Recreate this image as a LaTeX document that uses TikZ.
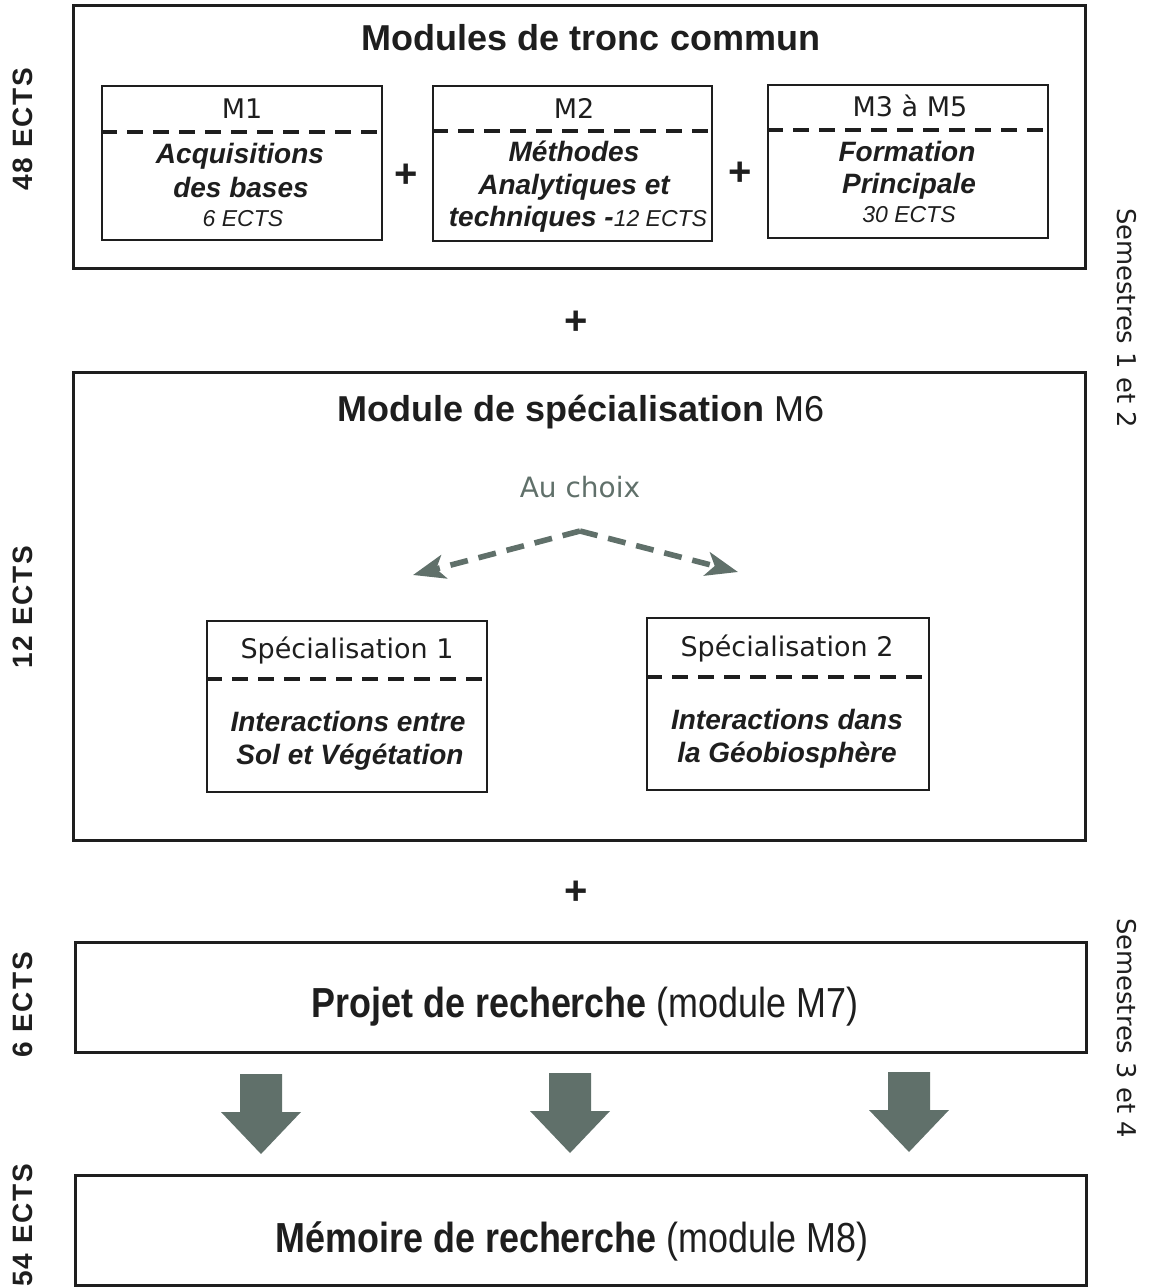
\documentclass[tikz,border=0pt]{standalone}
\usepackage{fontspec}
\setmainfont{Liberation Sans}
\newfontfamily\verd{DejaVu Sans}
\newfontfamily\tallf{Liberation Sans}[FakeStretch=0.855]
\newfontfamily\ectsf{Liberation Sans}[LetterSpace=7]
\usetikzlibrary{fit,arrows.meta}
\definecolor{ink}{RGB}{30,30,30}
\definecolor{gc}{RGB}{96,112,106}
\newcommand\blockarrow[2]{%
  \fill[gc] ({#1-21},#2) -- ({#1+21},#2) -- ({#1+21},{#2+38}) -- ({#1+40},{#2+38})
    -- (#1,{#2+80}) -- ({#1-40},{#2+38}) -- ({#1-21},{#2+38}) -- cycle;}
\begin{document}
\begin{tikzpicture}[x=0.5pt,y=-0.5pt,
  outer/.style={draw=ink, line width=1.5pt, inner sep=0pt},
  inbox/.style={draw=ink, line width=0.9pt, inner sep=0pt},
  sep/.style={draw=ink, line width=1.7pt, dash pattern=on 8pt off 5pt},
  title/.style={anchor=base, inner sep=0pt, text=ink, font=\fontsize{18}{20}\selectfont},
  hdr/.style={anchor=base, inner sep=0pt, text=ink, font=\verd\fontsize{13.5}{15}\selectfont},
  bi/.style={anchor=base, inner sep=0pt, text=ink, font=\bfseries\itshape\fontsize{14}{16}\selectfont},
  small/.style={anchor=base, inner sep=0pt, text=ink, font=\itshape\fontsize{11.5}{13}\selectfont},
  plus/.style={inner sep=0pt, text=ink, font=\bfseries\fontsize{20}{22}\selectfont},
  big/.style={anchor=base, inner sep=0pt, text=ink, font=\tallf\fontsize{21}{23}\selectfont},
  ects/.style={rotate=90, inner sep=0pt, text=ink, font=\ectsf\bfseries\fontsize{14}{16}\selectfont},
  sem/.style={rotate=-90, inner sep=0pt, text=ink, font=\verd\fontsize{12.9}{15}\selectfont},
  choice/.style={draw=gc, line width=2.8pt, dash pattern=on 9pt off 5.5pt,
    -{Stealth[length=16pt,width=12pt,inset=4pt]}}
]
\useasboundingbox (0,0) rectangle (1148,1287);

% ---------- Modules de tronc commun ----------
\node[outer, fit={(73,5) (1085,268)}] (tronc) {};
\node[title] (ttronc) at (591,50) {\bfseries Modules de tronc commun};

\node[inbox, fit={(102,86) (382,240)}] (m1) {};
\draw[sep] (m1.west |- 0,132) -- (m1.east |- 0,132);
\node[hdr] (m1h) at (242,118) {M1};
\node[bi] (m1a) at (240,163) {Acquisitions};
\node[bi] (m1b) at (241,197) {des bases};
\node[small] (m1c) at (243,226) {6 ECTS};

\node[inbox, fit={(433,86) (712,241)}] (m2) {};
\draw[sep] (m2.west |- 0,131) -- (m2.east |- 0,131);
\node[hdr] (m2h) at (574,118) {M2};
\node[bi] (m2a) at (574,161) {Méthodes};
\node[bi] (m2b) at (574,194) {Analytiques et};
\node[bi] (m2c) at (578,226) {techniques -{\mdseries\fontsize{11.5}{13}\selectfont 12 ECTS}};

\node[inbox, fit={(768,85) (1048,238)}] (m3) {};
\draw[sep] (m3.west |- 0,130) -- (m3.east |- 0,130);
\node[hdr] (m3h) at (910,116) {M3 à M5};
\node[bi] (m3a) at (907,161) {Formation};
\node[bi] (m3b) at (909,193) {Principale};
\node[small] (m3c) at (909,222) {30 ECTS};

\node[plus] (p1) at (406,176) {+};
\node[plus] (p2) at (740,174) {+};

\node[plus] (p3) at (576,323) {+};

% ---------- Module de specialisation ----------
\node[outer, fit={(73,372) (1085,840)}] (spec) {};
\node[title] (tspec) at (581,421) {\bfseries Module de spécialisation \mdseries M6};
\node[anchor=base, inner sep=0pt, text=gc, font=\verd\fontsize{14}{16}\selectfont] (choix) at (580,497) {Au choix};

\coordinate (apex) at (580,531);
\coordinate (tl) at (413,575);
\coordinate (tr) at (738,572);
\draw[choice] (apex) -- (tl);
\draw[choice] (apex) -- (tr);

\node[inbox, fit={(207,621) (487,792)}] (s1) {};
\draw[sep] (s1.west |- 0,679) -- (s1.east |- 0,679);
\node[hdr] (s1h) at (347,658) {Spécialisation 1};
\node[bi] (s1a) at (348,731) {Interactions entre};
\node[bi] (s1b) at (350,764) {Sol et Végétation};

\node[inbox, fit={(647,618) (929,790)}] (s2) {};
\draw[sep] (s2.west |- 0,677) -- (s2.east |- 0,677);
\node[hdr] (s2h) at (787,656) {Spécialisation 2};
\node[bi] (s2a) at (787,729) {Interactions dans};
\node[bi] (s2b) at (787,762) {la Géobiosphère};

\node[plus] (p4) at (576,893) {+};

% ---------- Projet / Memoire ----------
\node[outer, fit={(75,942) (1086,1052)}] (proj) {};
\node[big] (tproj) at (585,1017) {\bfseries Projet de recherche \mdseries(module M7)};

\blockarrow{261}{1074}
\blockarrow{570}{1073}
\blockarrow{909}{1072}

\node[outer, fit={(75,1175) (1086,1285)}] (mem) {};
\node[big] (tmem) at (572,1252) {\bfseries Mémoire de recherche \mdseries(module M8)};

% ---------- side labels ----------
\node[ects] (e48) at (23,129) {48 ECTS};
\node[ects] (e12) at (23,607) {12 ECTS};
\node[ects] (e6) at (23,1005) {6 ECTS};
\node[ects] (e54) at (23,1225) {54 ECTS};

\node[sem] (sem12) at (1127,318) {Semestres 1 et 2};
\node[sem] (sem34) at (1127,1028) {Semestres 3 et 4};
\end{tikzpicture}
\end{document}
